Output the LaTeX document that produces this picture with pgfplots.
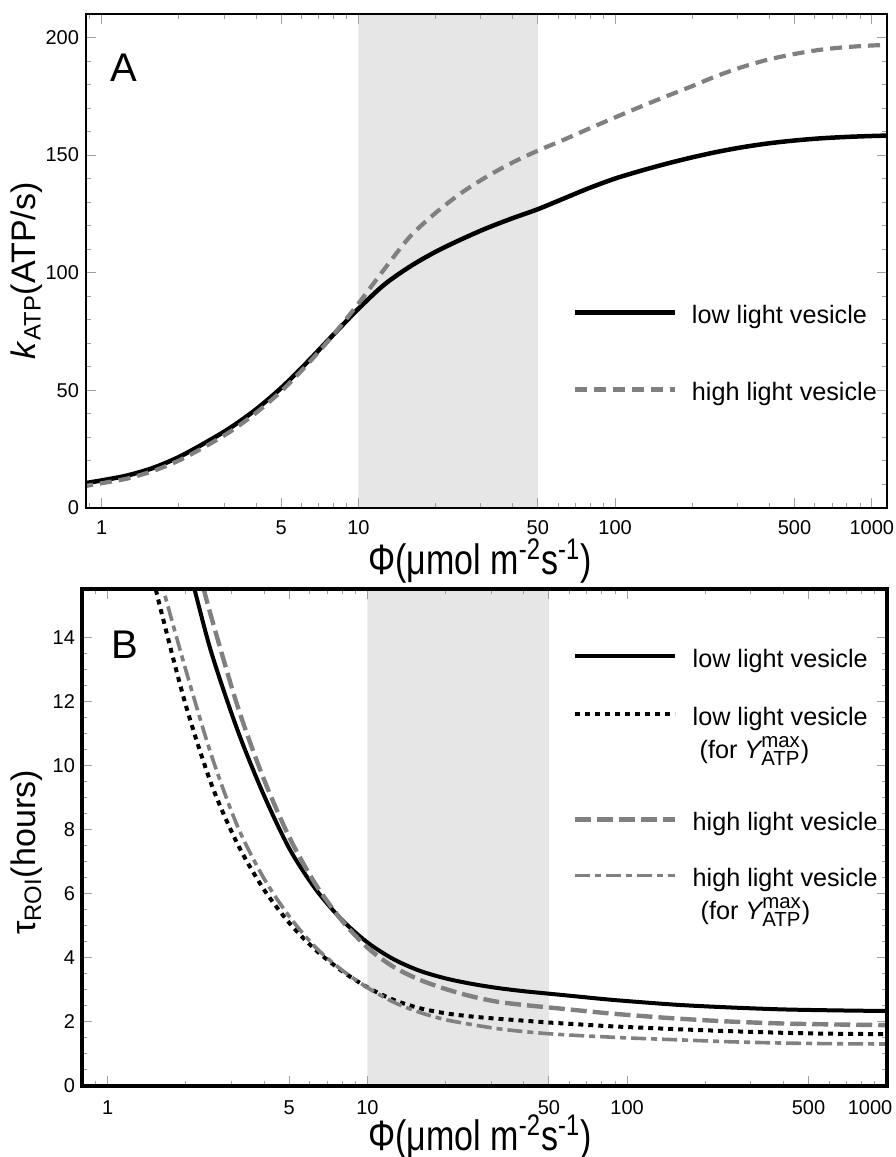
\documentclass[border=0pt]{standalone}
\usepackage{fontspec}
\setmainfont{Liberation Sans}
\usepackage{amsmath}
\usepackage{graphicx}
\usepackage{pgfplots}
\pgfplotsset{compat=1.18}
\definecolor{lg}{HTML}{808080}
\definecolor{shade}{HTML}{E6E6E6}
\definecolor{tickc}{HTML}{A0A0A0}
\newcommand{\lblfont}{\fontsize{17}{20}\selectfont}
\newcommand{\tickfont}{\fontsize{10}{12}\selectfont}
\newcommand{\legfont}{\fontsize{12.6}{15.5}\selectfont}
\newcommand{\legscr}{\fontsize{10.2}{12}\selectfont}
\newcommand{\Ymax}{$\text{\itshape Y}^{\text{\legscr max}}_{\text{\legscr ATP}}$}
\begin{document}
\begin{tikzpicture}
\useasboundingbox (0,0) rectangle (447.5pt,578.5pt);
% ---------------- Panel A ----------------
\begin{axis}[
  scale only axis,
  xmode=log,
  xtick={1,5,10,50,100,500,1000},
  minor xtick={0.8,0.9,2,3,4,6,7,8,9,20,30,40,60,70,80,90,200,300,400,600,700,800,900},
  tick align=inside,
  major tick length=5pt,
  minor tick length=2.5pt,
  tick style={tickc, line width=0.5pt},
  tick label style={font=\tickfont},
  /pgf/number format/assume math mode=true,
  axis on top,
  legend image code/.code={\draw[#1] (0pt,5.5pt) -- (50pt,5.5pt);},
  legend style={draw=none, fill=none, inner sep=0pt, column sep=7.5pt, row sep=0pt,
    font=\legfont,
    nodes={inner sep=0pt, text height=10pt, text depth=18pt, anchor=base west},
    cells={anchor=base west}},
  at={(43pt,324.65pt)}, anchor=south west,
  width=400.35pt, height=246.85pt,
  xmin=0.869, xmax=1143, ymin=0, ymax=210,
  xticklabels={1,5,10,50,100,500,1000},
  ytick={0,50,100,150,200},
  minor y tick num=4,
  axis line style={line width=1pt},
  xticklabel style={yshift=-2.9pt},
  xlabel={\scalebox{1}[1.25]{\lblfont Φ(μmol m\textsuperscript{-2}s\textsuperscript{-1})}},
  xlabel style={at={(axis description cs:0.492,-0.108)}, anchor=center, inner sep=0pt},
  ylabel={\lblfont\textit{k}$_{\text{ATP}}$(ATP/s)},
  ylabel style={at={(axis description cs:-0.074,0.48)}, anchor=center},
  legend style={at={(axis description cs:0.607,0.4146)}, anchor=north west},
]
\addplot[fill=shade, draw=none, forget plot] coordinates {(10,0) (10,210) (50,210) (50,0)} \closedcycle;
\addplot[black, line width=2.25pt, smooth] table {
0.8318 10.1
0.8710 10.5
1 11.6
1.2589 13.7
1.5849 16.9
1.9953 21.5
2.5119 27.4
3.1623 33.9
3.9811 41.7
5.0119 51.0
6.3096 61.8
7.9433 73.3
10 84.6
12.589 94.8
15.849 102.5
19.953 108.8
25.119 114.1
31.623 118.9
39.811 123.1
50.119 127.0
63.096 131.5
79.433 136.0
100 140.0
125.89 143.3
158.49 146.3
199.53 149.0
251.19 151.4
316.23 153.4
398.11 155.0
501.19 156.2
630.96 157.1
794.33 157.7
1000 158.1
1258.9 158.4
};
\addlegendentry[text depth=28.5pt]{low light vesicle}
\addplot[lg, line width=2.1pt, dash pattern=on 6pt off 3.5pt, smooth] table {
0.8318 9.0
0.8710 9.3
1 10.4
1.2589 12.4
1.5849 15.6
1.9953 20.0
2.5119 25.8
3.1623 32.3
3.9811 40.2
5.0119 49.6
6.3096 60.8
7.9433 73.2
10 86.8
12.589 101.3
15.849 115.2
19.953 125.3
25.119 133.8
31.623 140.8
39.811 146.8
50.119 151.9
63.096 156.5
79.433 161.3
100 166.0
125.89 170.6
158.49 175.0
199.53 179.3
251.19 183.8
316.23 187.6
398.11 190.7
501.19 193.0
630.96 194.8
794.33 195.9
1000 196.6
1258.9 197.0
};
\addlegendentry{high light vesicle}
\node[font=\fontsize{20}{24}\selectfont] at (rel axis cs:0.0475,0.8916) {A};
\end{axis}
% ---------------- Panel B ----------------
\begin{axis}[
  scale only axis,
  xmode=log,
  xtick={1,5,10,50,100,500,1000},
  minor xtick={0.8,0.9,2,3,4,6,7,8,9,20,30,40,60,70,80,90,200,300,400,600,700,800,900},
  tick align=inside,
  major tick length=5pt,
  minor tick length=2.5pt,
  tick style={tickc, line width=0.5pt},
  tick label style={font=\tickfont},
  /pgf/number format/assume math mode=true,
  axis on top,
  legend image code/.code={\draw[#1] (0pt,5.5pt) -- (50pt,5.5pt);},
  legend style={draw=none, fill=none, inner sep=0pt, column sep=7.5pt, row sep=0pt,
    font=\legfont,
    nodes={inner sep=0pt, text height=10pt, text depth=18pt, anchor=base west},
    cells={anchor=base west}},
  at={(41pt,35.5pt)}, anchor=south west,
  width=402.35pt, height=248.35pt,
  xmin=0.796, xmax=1000, ymin=0, ymax=15.5,
  xticklabels={1,5,10,50,100,500,{\hspace*{-16.7pt}1000}},
  ytick={0,2,4,6,8,10,12,14},
  minor y tick num=3,
  axis line style={line width=2pt},
  xticklabel style={yshift=-3.75pt},
  xlabel={\scalebox{1}[1.25]{\lblfont Φ(μmol m\textsuperscript{-2}s\textsuperscript{-1})}},
  xlabel style={at={(axis description cs:0.4946,-0.103)}, anchor=center, inner sep=0pt},
  ylabel={\lblfont τ$_{\text{ROI}}$(hours)},
  ylabel style={at={(axis description cs:-0.0683,0.47)}, anchor=center},
  legend style={at={(axis description cs:0.610,0.8838)}, anchor=north west},
]
\addplot[fill=shade, draw=none, forget plot] coordinates {(10,0) (10,15.5) (50,15.5) (50,0)} \closedcycle;
\addplot[black, line width=2pt, smooth] table {
1.9953 16.5
2.1577 15.5
2.5119 13.5
3.1623 11.1
3.9811 9.1
5.0119 7.4
6.3096 6.15
7.9433 5.2
10 4.48
12.589 3.96
15.849 3.6
19.953 3.36
25.119 3.19
31.623 3.06
39.811 2.96
50.119 2.88
63.096 2.8
79.433 2.72
100 2.65
158.49 2.53
251.19 2.45
398.11 2.39
630.96 2.36
1000 2.34
1122 2.34
};
\addlegendentry[text depth=19pt]{low light vesicle}
\addplot[black, line width=2pt, dash pattern=on 2.5pt off 2.5pt, smooth] table {
1.4125 16.7
1.5849 15.0
1.9953 11.9
2.5119 9.4
3.1623 7.55
3.9811 6.15
5.0119 5.08
6.3096 4.25
7.9433 3.6
10 3.08
12.589 2.69
15.849 2.43
19.953 2.27
25.119 2.17
31.623 2.1
39.811 2.04
50.119 1.98
63.096 1.93
79.433 1.88
100 1.84
158.49 1.77
251.19 1.71
398.11 1.66
630.96 1.63
1000 1.62
1122 1.62
};
\addlegendentry[text depth=42.5pt]{\begin{tabular}[t]{@{}l@{}}low light vesicle\\[1pt]\hspace*{3.5pt}(for \Ymax)\end{tabular}}
\addplot[lg, line width=2.2pt, dash pattern=on 8pt off 3pt, smooth] table {
2.2387 16.2
2.3442 15.5
2.5119 14.6
3.1623 11.85
3.9811 9.6
5.0119 7.75
6.3096 6.3
7.9433 5.18
10 4.32
12.589 3.72
15.849 3.32
19.953 3.03
25.119 2.8
31.623 2.63
39.811 2.53
50.119 2.45
63.096 2.37
79.433 2.29
100 2.22
158.49 2.1
251.19 2.01
398.11 1.95
630.96 1.92
1000 1.9
1122 1.9
};
\addlegendentry[text depth=18pt]{high light vesicle}
\addplot[lg, line width=1.8pt, dash pattern=on 7.5pt off 2.5pt on 3pt off 2.5pt, smooth] table {
1.5849 15.9
1.9953 13.0
2.5119 10.3
3.1623 8.1
3.9811 6.5
5.0119 5.28
6.3096 4.33
7.9433 3.63
10 3.07
12.589 2.62
15.849 2.3
19.953 2.07
25.119 1.92
31.623 1.79
39.811 1.7
50.119 1.63
63.096 1.58
79.433 1.54
100 1.5
158.49 1.44
251.19 1.38
398.11 1.34
630.96 1.32
1000 1.31
1122 1.31
};
\addlegendentry[text depth=20pt]{\begin{tabular}[t]{@{}l@{}}high light vesicle\\[1pt]\hspace*{4pt}(for \Ymax)\end{tabular}}
\node[font=\fontsize{20}{24}\selectfont] at (rel axis cs:0.0534,0.8889) {B};
\end{axis}
\end{tikzpicture}
\end{document}
